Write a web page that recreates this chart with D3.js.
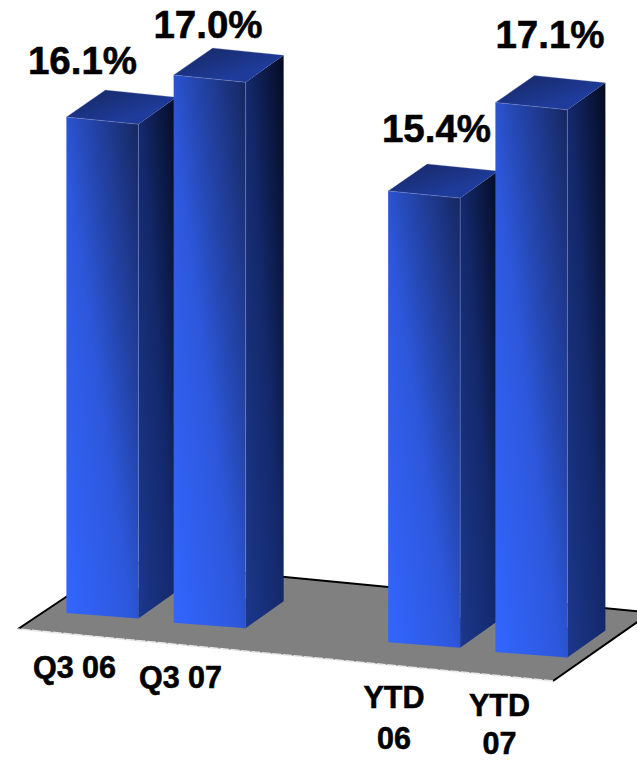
<!DOCTYPE html>
<html><head><meta charset="utf-8">
<script src="https://cdn.jsdelivr.net/npm/d3@7/dist/d3.min.js"></script>
<style>html,body{margin:0;background:#fff}svg{display:block}text{font-family:"Liberation Sans",Arial,sans-serif;font-weight:700;fill:#000;stroke:#000;stroke-width:.55px}</style>
</head><body>
<script>
const categories = ["Q3 06","Q3 07","","YTD 06","YTD 07"];
const values = [16.1,17.0,null,15.4,17.1];
const valueLabels = ["16.1%","17.0%","","15.4%","17.1%"];
const categoryLines = [["Q3 06"],["Q3 07"],[],["YTD","06"],["YTD","07"]];
// hand-placed label layout from the source slide
const valueLabelPos = [[82.5,74],[208,38],null,[436.5,142],[550,48]];
const categoryLabelPos = [[74.5,678],[180.5,688],null,[394,708],[499.5,716]];
const categoryLineGap = [0,0,0,41,38];

const W=637,H=761;
const svg=d3.select("body").append("svg").attr("width",W).attr("height",H);
const defs=svg.append("defs");
function grad(id,x1,y1,x2,y2,stops){
  const g=defs.append("linearGradient").attr("id",id).attr("x1",x1).attr("y1",y1).attr("x2",x2).attr("y2",y2);
  stops.forEach(s=>g.append("stop").attr("offset",s[0]).attr("stop-color",s[1]));
}
grad("front",0,1,1,0,[[0,"#3366ff"],[.45,"#2d58dc"],[.62,"#2548b4"],[1,"#16275f"]]);
grad("side",0,1,1,0,[[0,"#1c388c"],[.5,"#14296c"],[1,"#040b22"]]);
grad("top",0,0,1,1,[[0,"#16265e"],[.7,"#1f3c9c"],[1,"#1d3894"]]);

const x=d3.scalePoint().domain(categories).range([66,495]);
const h=d3.scaleLinear().domain([7.69,17.1]).range([0,555]);
const barW=72, dx=38, dy=-27;
const floorY=px=>613+0.0909*(px-66);
const persp=px=>1-2.3e-5*(px-66);

// floor
const floor=[[18,629],[120,561],[651,612.5],[553,681]];
svg.append("path").attr("d",d3.line()(floor)+"Z").attr("fill","#808080");
svg.append("path").attr("d",d3.line()(floor)).attr("fill","none").attr("stroke","#000").attr("stroke-width",2);
svg.append("path").attr("d",d3.line()([floor[3],floor[0]])).attr("fill","none").attr("stroke","#e8e8e8").attr("stroke-width",1.6).attr("stroke-dasharray","9 1.5");

const bars=categories.map((c,i)=>({c,v:values[i]})).filter(d=>d.v!=null);
const line=d3.line();
const g=svg.selectAll("g.bar").data(bars).join("g").attr("class","bar");
g.each(function(d){
  const s=d3.select(this), xl=x(d.c)+0.4, xr=xl+barW;
  const by=floorY(xl), byr=by+barW*0.075;
  const ty=by-h(d.v)*persp(xl), tyr=ty+barW*0.1;
  const side=[[xr,tyr],[xr+dx,tyr+dy],[xr+dx,byr+dy],[xr,byr]];
  const top=[[xl,ty],[xl+dx+1,ty+dy],[xr+dx,tyr+dy],[xr,tyr]];
  const front=[[xl,ty],[xr,tyr],[xr,byr],[xl,by]];
  s.append("path").attr("d",line(side)+"Z").attr("fill","url(#side)");
  s.append("path").attr("d",line(top)+"Z").attr("fill","url(#top)");
  s.append("path").attr("d",line(front)+"Z").attr("fill","url(#front)");
  s.append("path").attr("d",line([[xl,ty],[xr,tyr],[xr,byr-30]])).attr("fill","none").attr("stroke","#7f8fd0").attr("stroke-width",.7).attr("stroke-opacity",.6);
  s.append("path").attr("d",line([[xl,ty],[xl+dx+1,ty+dy],[xr+dx,tyr+dy]])).attr("fill","none").attr("stroke","#8f9bd0").attr("stroke-width",.6).attr("stroke-opacity",.5);
});

categories.forEach((c,i)=>{
  if(values[i]==null)return;
  svg.append("text").attr("x",valueLabelPos[i][0]).attr("y",valueLabelPos[i][1]).attr("text-anchor","middle").attr("font-size",38.5).text(valueLabels[i]);
  categoryLines[i].forEach((t,k)=>svg.append("text").attr("x",categoryLabelPos[i][0]).attr("y",categoryLabelPos[i][1]+k*categoryLineGap[i]).attr("text-anchor","middle").attr("font-size",30.5).text(t));
});
</script></body></html>
